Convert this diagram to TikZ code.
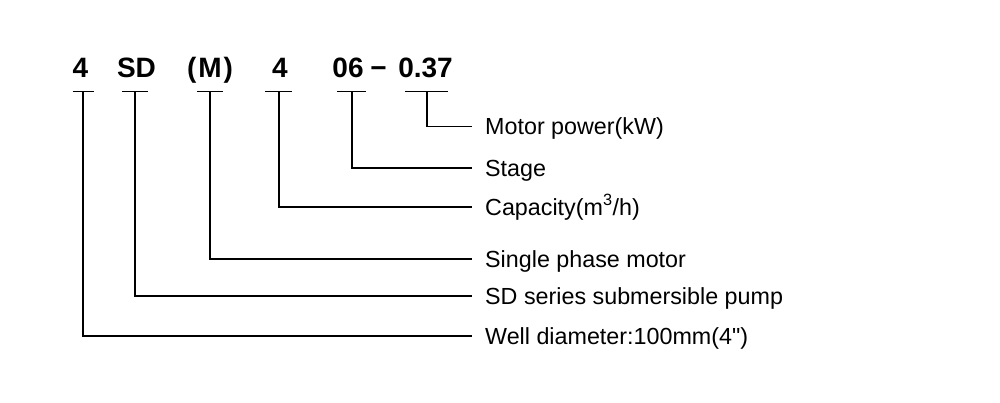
\documentclass[tikz,border=0pt]{standalone}
\usepackage{fontspec}
\setmainfont{Liberation Sans}
\begin{document}
\begin{tikzpicture}[x=1pt,y=-1pt,
  code/.style={anchor=base,inner sep=0pt,font=\fontsize{28}{30}\selectfont\bfseries},
  lab/.style={anchor=west,inner xsep=13pt,inner ysep=0pt,text height=18pt,text depth=2pt,font=\fontsize{23.3}{26}\selectfont},
  ln/.style={line width=1.5pt,black}]
\useasboundingbox (0,0) rectangle (1000,402);
% code tokens
\node[code] (c1) at (80.5,77.5) {4};
\node[code] (c2) at (136.5,77.5) {SD};
\node[code] (c3) at (210,77.5) {(\hspace{2pt}M\hspace{2pt})};
\node[code] (c4) at (280,77.5) {4};
\node[code] (c5) at (348,77.5) {06};
\node[code] (c6) at (378.5,77.5) {−};
\node[code] (c7) at (425.5,77.5) {0.37};
% bar centres
\coordinate (t1) at (83,91.7);
\coordinate (t2) at (135,91.7);
\coordinate (t3) at (210,91.7);
\coordinate (t4) at (279,91.7);
\coordinate (t5) at (352,91.7);
\coordinate (t6) at (427,91.7);
% labels
\node[lab] (l6) at (472,126.7) {Motor power(kW)};
\node[lab] (l5) at (472,168) {Stage};
\node[lab] (l4) at (472,207) {Capacity(m\textsuperscript{3}/h)};
\node[lab] (l3) at (472,259) {Single phase motor};
\node[lab] (l2) at (472,296) {SD series submersible pump};
\node[lab] (l1) at (472,336) {Well diameter:100mm(4\textquotedbl)};
% bars
\draw[ln] ([xshift=-10.5pt]t1) -- ([xshift=10.5pt]t1);
\draw[ln] ([xshift=-13pt]t2) -- ([xshift=13pt]t2);
\draw[ln] ([xshift=-13pt]t3) -- ([xshift=13pt]t3);
\draw[ln] ([xshift=-14pt]t4) -- ([xshift=13pt]t4);
\draw[ln] ([xshift=-15pt]t5) -- ([xshift=14pt]t5);
\draw[ln] ([xshift=-22pt]t6) -- ([xshift=21pt]t6);
% connectors
\draw[ln] (t1) |- (l1.west);
\draw[ln] (t2) |- (l2.west);
\draw[ln] (t3) |- (l3.west);
\draw[ln] (t4) |- (l4.west);
\draw[ln] (t5) |- (l5.west);
\draw[ln] (t6) |- (l6.west);
\end{tikzpicture}
\end{document}
